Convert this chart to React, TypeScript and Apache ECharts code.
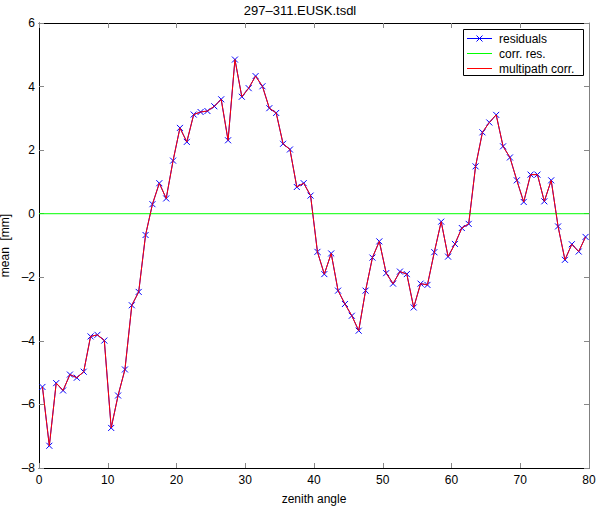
import { useEffect, useRef } from 'react';
import * as echarts from 'echarts';

// zenith angle bins (deg), one point per degree
const zenith = [
  0.5, 1.5, 2.5, 3.5, 4.5, 5.5, 6.5, 7.5, 8.5, 9.5,
  10.5, 11.5, 12.5, 13.5, 14.5, 15.5, 16.5, 17.5, 18.5, 19.5,
  20.5, 21.5, 22.5, 23.5, 24.5, 25.5, 26.5, 27.5, 28.5, 29.5,
  30.5, 31.5, 32.5, 33.5, 34.5, 35.5, 36.5, 37.5, 38.5, 39.5,
  40.5, 41.5, 42.5, 43.5, 44.5, 45.5, 46.5, 47.5, 48.5, 49.5,
  50.5, 51.5, 52.5, 53.5, 54.5, 55.5, 56.5, 57.5, 58.5, 59.5,
  60.5, 61.5, 62.5, 63.5, 64.5, 65.5, 66.5, 67.5, 68.5, 69.5,
  70.5, 71.5, 72.5, 73.5, 74.5, 75.5, 76.5, 77.5, 78.5, 79.5,
];

// mean residuals [mm]
const residuals = [
  -5.45, -7.3, -5.33, -5.56, -5.06, -5.16, -4.97, -3.86, -3.81, -3.99,
  -6.74, -5.72, -4.9, -2.88, -2.46, -0.67, 0.3, 0.96, 0.48, 1.67,
  2.7, 2.26, 3.12, 3.2, 3.23, 3.38, 3.6, 2.31, 4.85, 3.68,
  3.95, 4.33, 4.01, 3.32, 3.17, 2.2, 2.02, 0.84, 0.96, 0.57,
  -1.2, -1.9, -1.25, -2.42, -2.84, -3.21, -3.68, -2.42, -1.38, -0.87,
  -1.87, -2.2, -1.82, -1.9, -2.95, -2.2, -2.24, -1.21, -0.25, -1.35,
  -0.95, -0.45, -0.32, 1.49, 2.56, 2.87, 3.11, 2.12, 1.77, 1.05,
  0.37, 1.23, 1.23, 0.39, 1.05, -0.4, -1.45, -0.96, -1.19, -0.73,
];

// multipath correction follows the residuals exactly in the plot
const multipathCorr = residuals;

// corrected residuals: flat at zero across the full axis
const corrResX = [0, 80];
const corrRes = [0, 0];

const xTicks = [0, 10, 20, 30, 40, 50, 60, 70, 80];
const yTicks = [-8, -6, -4, -2, 0, 2, 4, 6];

const legendItems = [
  { name: 'residuals', color: '#0000ff', marker: true },
  { name: 'corr. res.', color: '#00ff00', marker: false },
  { name: 'multipath corr.', color: '#ff0000', marker: false },
];

const FONT = '"Liberation Sans", Arial, Helvetica, sans-serif';
const dash = (v: number) => String(v).replace('-', '\u2013');

export default function App() {
  const chartRef = useRef<HTMLDivElement>(null);

  useEffect(() => {
    if (!chartRef.current) return;
    const chart = echarts.init(chartRef.current, undefined, { renderer: 'svg' });

    const tick = { show: true, inside: true, length: 5, lineStyle: { color: '#888', width: 1 } };
    const baseX = {
      type: 'value' as const,
      min: xTicks[0],
      max: xTicks[xTicks.length - 1],
      interval: 10,
      splitLine: { show: false },
      axisTick: tick,
    };
    const baseY = {
      type: 'value' as const,
      min: yTicks[0],
      max: yTicks[yTicks.length - 1],
      interval: 2,
      splitLine: { show: false },
      axisTick: tick,
    };

    // legend box drawn by hand to get MATLAB-style thin line samples
    const lx = 463;
    const ly = 29;
    const legendChildren: any[] = [
      {
        type: 'rect',
        shape: { x: lx + 0.5, y: ly + 0.5, width: 120, height: 46 },
        style: { fill: '#fff', stroke: '#000', lineWidth: 1 },
      },
    ];
    legendItems.forEach((it, i) => {
      const cy = ly + 9.5 + i * 15;
      legendChildren.push({
        type: 'line',
        shape: { x1: lx + 4, y1: cy, x2: lx + 29, y2: cy },
        style: { stroke: it.color, lineWidth: 1 },
      });
      if (it.marker) {
        const mx = lx + 16.5;
        legendChildren.push(
          { type: 'line', shape: { x1: mx - 3, y1: cy - 3, x2: mx + 3, y2: cy + 3 }, style: { stroke: it.color, lineWidth: 1 } },
          { type: 'line', shape: { x1: mx - 3, y1: cy + 3, x2: mx + 3, y2: cy - 3 }, style: { stroke: it.color, lineWidth: 1 } },
        );
      }
      legendChildren.push({
        type: 'text',
        x: lx + 36,
        y: cy,
        style: { text: it.name, fill: '#000', font: `12px ${FONT}`, verticalAlign: 'middle' },
      });
    });

    chart.setOption({
      animation: false,
      textStyle: { fontFamily: FONT },
      title: {
        text: '297\u2013311.EUSK.tsdl',
        left: 'center',
        top: 4,
        padding: 0,
        textStyle: { fontSize: 13, fontWeight: 'normal', color: '#000', fontFamily: FONT },
      },
      grid: { left: 39, top: 23, right: 11, bottom: 39, containLabel: false, outerBoundsMode: 'none' },
      graphic: [{ type: 'group', z: 100, children: legendChildren }],
      xAxis: [
        {
          ...baseX,
          position: 'bottom',
          name: 'zenith angle',
          nameLocation: 'middle',
          nameGap: 25,
          nameTextStyle: { fontSize: 12, color: '#000' },
          axisLine: { show: true, onZero: false, lineStyle: { color: '#000', width: 1 } },
          axisLabel: { fontSize: 12, color: '#000', margin: 6, formatter: dash },
        },
        {
          ...baseX,
          position: 'top',
          axisLine: { show: true, onZero: false, lineStyle: { color: '#000', width: 1 } },
          axisLabel: { show: false },
        },
      ],
      yAxis: [
        {
          ...baseY,
          position: 'left',
          name: 'mean  [mm]',
          nameLocation: 'middle',
          nameGap: 20,
          nameTextStyle: { fontSize: 12, color: '#000' },
          axisLine: { show: true, onZero: false, lineStyle: { color: '#000', width: 1 } },
          axisLabel: { fontSize: 12, color: '#000', margin: 4, formatter: dash },
        },
        {
          ...baseY,
          position: 'right',
          axisLine: { show: true, onZero: false, lineStyle: { color: '#808080', width: 1 } },
          axisLabel: { show: false },
        },
      ],
      series: [
        {
          name: 'residuals',
          type: 'line',
          data: zenith.map((x, i) => [x, residuals[i]]),
          symbol: 'path://M0,0L10,10M10,0L0,10',
          symbolSize: 6,
          showSymbol: true,
          lineStyle: { color: '#0000ff', width: 1 },
          itemStyle: { color: 'none', borderColor: '#0000ff', borderWidth: 1 },
          emphasis: { disabled: true },
          z: 2,
        },
        {
          name: 'corr. res.',
          type: 'line',
          data: corrResX.map((x, i) => [x, corrRes[i]]),
          symbol: 'none',
          lineStyle: { color: '#00ff00', width: 1 },
          emphasis: { disabled: true },
          z: 3,
        },
        {
          name: 'multipath corr.',
          type: 'line',
          data: zenith.map((x, i) => [x, multipathCorr[i]]),
          symbol: 'none',
          lineStyle: { color: '#ff0000', width: 1 },
          emphasis: { disabled: true },
          z: 4,
        },
      ],
    });

    return () => {
      chart.dispose();
    };
  }, []);

  return (
    <div
      ref={chartRef}
      style={{ position: 'fixed', left: 0, top: 0, width: 600, height: 507, background: '#fff' }}
    />
  );
}
